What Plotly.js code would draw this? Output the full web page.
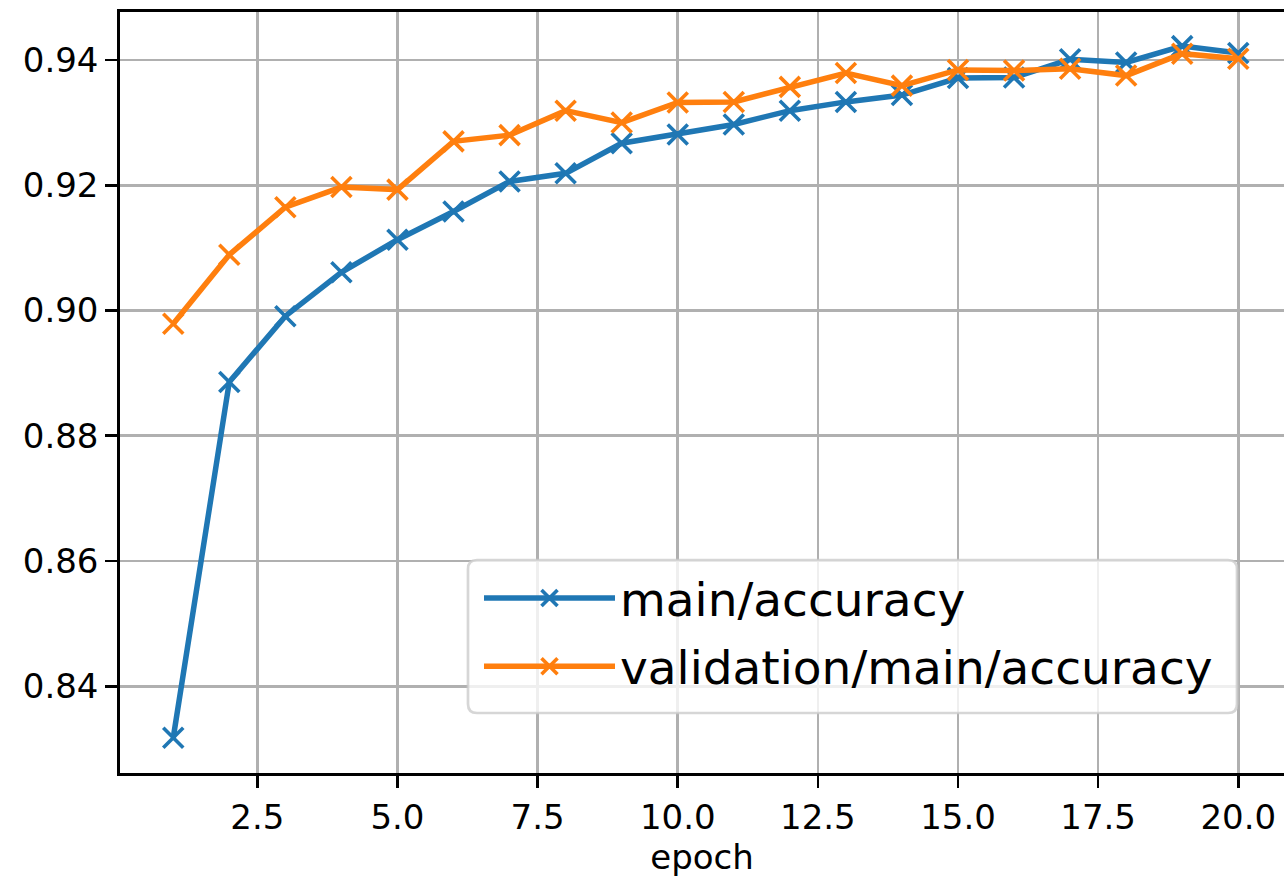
<!DOCTYPE html>
<html>
<head>
<meta charset="utf-8">
<script src="https://cdn.plot.ly/plotly-3.0.1.min.js"></script>
<style>
html, body { margin: 0; padding: 0; background: #ffffff; }
#chart { width: 1284px; height: 879px; }
</style>
</head>
<body>
<div id="chart"></div>
<script>
const epochs = [1, 2, 3, 4, 5, 6, 7, 8, 9, 10, 11, 12, 13, 14, 15, 16, 17, 18, 19, 20];
const mainAccuracy = [0.8318, 0.8886, 0.8991, 0.9061, 0.9113, 0.9158, 0.9206, 0.9219, 0.9267, 0.9281,
                      0.9297, 0.9319, 0.9333, 0.9344, 0.9371, 0.9372, 0.9401, 0.9396, 0.9422, 0.9411];
const validationAccuracy = [0.8979, 0.9089, 0.9165, 0.9197, 0.9193, 0.9270, 0.9280, 0.9319, 0.9300, 0.9332,
                            0.9333, 0.9357, 0.9379, 0.9359, 0.9384, 0.9383, 0.9386, 0.9375, 0.9410, 0.9402];
const seriesNames = ['main/accuracy', 'validation/main/accuracy'];
const seriesColors = ['#1f77b4', '#ff7f0e'];
const xTickVals = [2.5, 5.0, 7.5, 10.0, 12.5, 15.0, 17.5, 20.0];
const yTickVals = [0.84, 0.86, 0.88, 0.90, 0.92, 0.94];
const xLabel = 'epoch';

const font = 'DejaVu Sans, sans-serif';

function makeTrace(y, i) {
  return {
    x: epochs, y: y, name: seriesNames[i], type: 'scatter', mode: 'lines+markers',
    legendgroup: 'g' + i,
    line: { color: seriesColors[i], width: 5.5 },
    marker: { symbol: 'x-thin', size: 20, color: seriesColors[i], line: { color: seriesColors[i], width: 3.6 } },
    hoverinfo: 'skip'
  };
}

const data = [makeTrace(mainAccuracy, 0), makeTrace(validationAccuracy, 1)];

// legend frame (rounded, matplotlib style) in paper fractions
const plotW = 1284 - 120, plotH = 879 - 12 - 106;
const fx0 = (468 - 120) / plotW, fx1 = (1237 - 120) / plotW;
const fy1 = (773 - 560) / plotH, fy0 = (773 - 713) / plotH;
const rx = 9 / plotW, ry = 9 / plotH;
const framePath =
  `M ${fx0 + rx},${fy1} L ${fx1 - rx},${fy1} Q ${fx1},${fy1} ${fx1},${fy1 - ry} ` +
  `L ${fx1},${fy0 + ry} Q ${fx1},${fy0} ${fx1 - rx},${fy0} ` +
  `L ${fx0 + rx},${fy0} Q ${fx0},${fy0} ${fx0},${fy0 + ry} ` +
  `L ${fx0},${fy1 - ry} Q ${fx0},${fy1} ${fx0 + rx},${fy1} Z`;

const layout = {
  width: 1284, height: 879,
  margin: { l: 120, r: 0, t: 12, b: 106, pad: 0 },
  paper_bgcolor: '#ffffff', plot_bgcolor: '#ffffff',
  font: { family: font, size: 34, color: '#000000' },
  showlegend: true,
  legend: {
    x: (479 - 120) / plotW, y: (773 - 561) / plotH, xanchor: 'left', yanchor: 'top',
    bgcolor: 'rgba(0,0,0,0)', borderwidth: 0,
    font: { family: font, size: 47, color: '#000000' },
    itemwidth: 131, tracegroupgap: 4, traceorder: 'grouped'
  },
  shapes: [{
    type: 'path', xref: 'paper', yref: 'paper', layer: 'above', path: framePath,
    fillcolor: 'rgba(255,255,255,0.8)', line: { color: 'rgba(204,204,204,0.8)', width: 2.7 }
  }],
  xaxis: {
    range: [0.05, 20.816],
    tickmode: 'array', tickvals: xTickVals,
    ticktext: xTickVals.map(v => v.toFixed(1)),
    ticks: 'outside', ticklen: 12, tickwidth: 2.7, tickcolor: '#000000',
    showline: true, mirror: true, linecolor: '#000000', linewidth: 2.7,
    showgrid: true, gridcolor: '#b0b0b0', gridwidth: 2.7,
    zeroline: false,
    tickfont: { family: font, size: 34, color: '#000000' },
    title: { text: xLabel, font: { family: font, size: 34, color: '#000000' }, standoff: 10 }
  },
  yaxis: {
    range: [0.82618, 0.94765],
    tickmode: 'array', tickvals: yTickVals,
    ticktext: yTickVals.map(v => v.toFixed(2)),
    ticks: 'outside', ticklen: 12, tickwidth: 2.7, tickcolor: '#000000',
    showline: true, mirror: false, linecolor: '#000000', linewidth: 2.7,
    showgrid: true, gridcolor: '#b0b0b0', gridwidth: 2.7,
    zeroline: false,
    tickfont: { family: font, size: 34, color: '#000000' }
  }
};

Plotly.newPlot('chart', data, layout, { staticPlot: true, displayModeBar: false });
</script>
</body>
</html>
